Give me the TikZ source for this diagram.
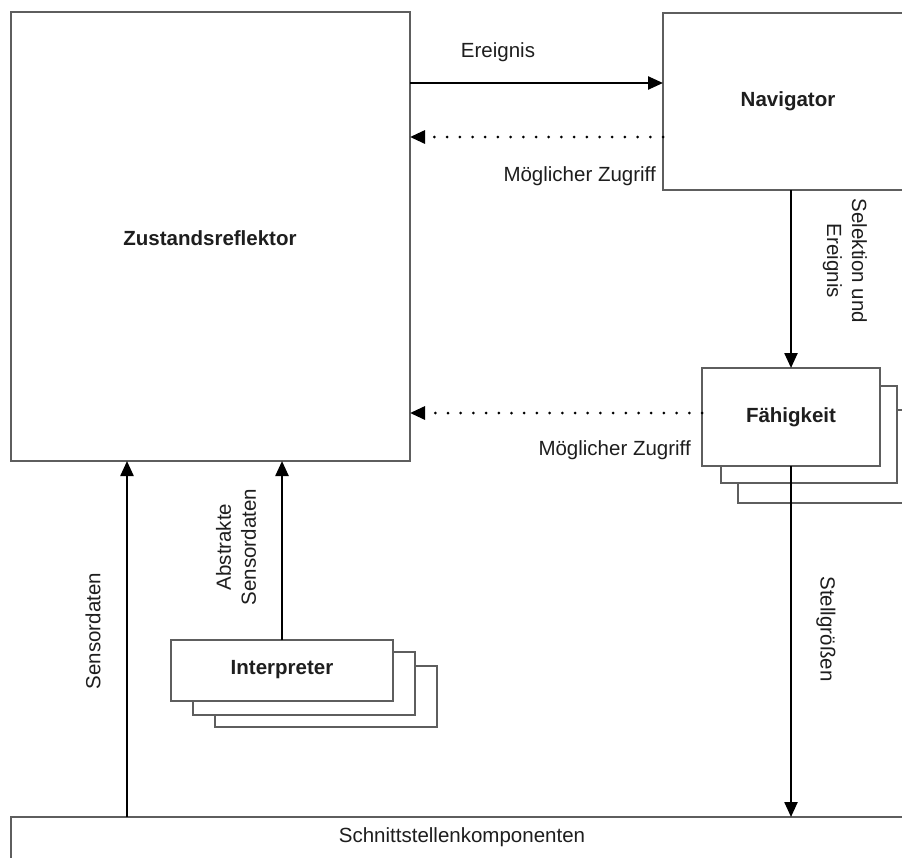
\documentclass[tikz,border=0pt]{standalone}
\usepackage{fontspec}
\setmainfont{Liberation Sans}
\usetikzlibrary{arrows.meta}

\definecolor{boxline}{HTML}{5E5E5E}
\definecolor{ink}{HTML}{1E1E1E}

\tikzset{
  block/.style={draw=boxline, line width=2.4pt, fill=white, inner sep=0pt, outer sep=0pt},
  stackbox/.style={block, anchor=north west},
  title/.style={font=\fontsize{20.5}{25}\selectfont\bfseries, text=ink},
  lbl/.style={font=\fontsize{20.5}{25}\selectfont, text=ink, inner sep=0pt, align=center},
  arr/.style={line width=2.4pt, draw=black, -{Triangle[length=15pt, width=13pt]}},
  dotarr/.style={line width=3pt, draw=black, line cap=round,
                 dash pattern=on 0pt off 12.7pt,
                 -{Triangle[length=15pt, width=13pt, line cap=butt]}},
}

\begin{document}
\begin{tikzpicture}[x=1pt, y=-1pt]
  \useasboundingbox (0,0) rectangle (902,857);
  \fill[white] (0,0) rectangle (902,857);
  \clip (0,0) rectangle (902,857);

  % main blocks
  \node[stackbox, minimum width=399pt, minimum height=449pt] (zust) at (11,12) {};
  \node[title] (zustlabel) at (210,238) {Zustandsreflektor};

  \node[stackbox, minimum width=250pt, minimum height=177pt] (nav) at (663,13) {};
  \node[title] (navlabel) at (788,101) {Navigator};

  \node[stackbox, minimum width=920pt, minimum height=80pt] (schnitt) at (11,817) {};
  \node[lbl] (schnittlabel) at (462,837) {Schnittstellenkomponenten};

  % Faehigkeit stack (back to front)
  \node[stackbox, minimum width=178pt, minimum height=93pt] (fah3) at (738,410) {};
  \node[stackbox, minimum width=176pt, minimum height=97pt] (fah2) at (721,386) {};
  \node[stackbox, minimum width=178pt, minimum height=98pt] (fah) at (702,368) {};
  \node[title] (fahlabel) at (791,417) {Fähigkeit};

  % Interpreter stack (back to front)
  \node[stackbox, minimum width=222pt, minimum height=61pt] (int3) at (215,666) {};
  \node[stackbox, minimum width=222pt, minimum height=63pt] (int2) at (193,652) {};
  \node[stackbox, minimum width=222pt, minimum height=61pt] (int) at (171,640) {};
  \node[title] (intlabel) at (282,670) {Interpreter};

  % levels and columns of the connectors
  \coordinate (yEv) at (0,83);
  \coordinate (yNavAcc) at (0,137);
  \coordinate (yFahAcc) at (0,413);
  \coordinate (xSens) at (127,0);

  % connectors
  \draw[arr] (zust.east |- yEv) -- (nav.west |- yEv);
  \draw[dotarr] (nav.west |- yNavAcc) -- (zust.east |- yNavAcc);
  \draw[arr] (nav.south -| fah.north) -- (fah.north);
  \draw[dotarr] (fah.west |- yFahAcc) -- (zust.east |- yFahAcc);
  \draw[arr] (fah.south) -- (schnitt.north -| fah.south);
  \draw[arr] (schnitt.north -| xSens) -- (zust.south -| xSens);
  \draw[arr] (int.north) -- (zust.south -| int.north);

  % connector labels
  \node[lbl] (evlabel) at (498,52) {Ereignis};
  \node[lbl, anchor=east] (acc1label) at (656,176) {Möglicher Zugriff};
  \node[lbl, anchor=east] (acc2label) at (691,450) {Möglicher Zugriff};
  \node[lbl, rotate=-90] (sellabel) at (845,261) {Selektion und\\Ereignis};
  \node[lbl, rotate=-90] (stelllabel) at (826,629) {Stellgrößen};
  \node[lbl, rotate=90] (senslabel) at (93,631) {Sensordaten};
  \node[lbl, rotate=90] (abslabel) at (236,547) {Abstrakte\\Sensordaten};
\end{tikzpicture}
\end{document}
